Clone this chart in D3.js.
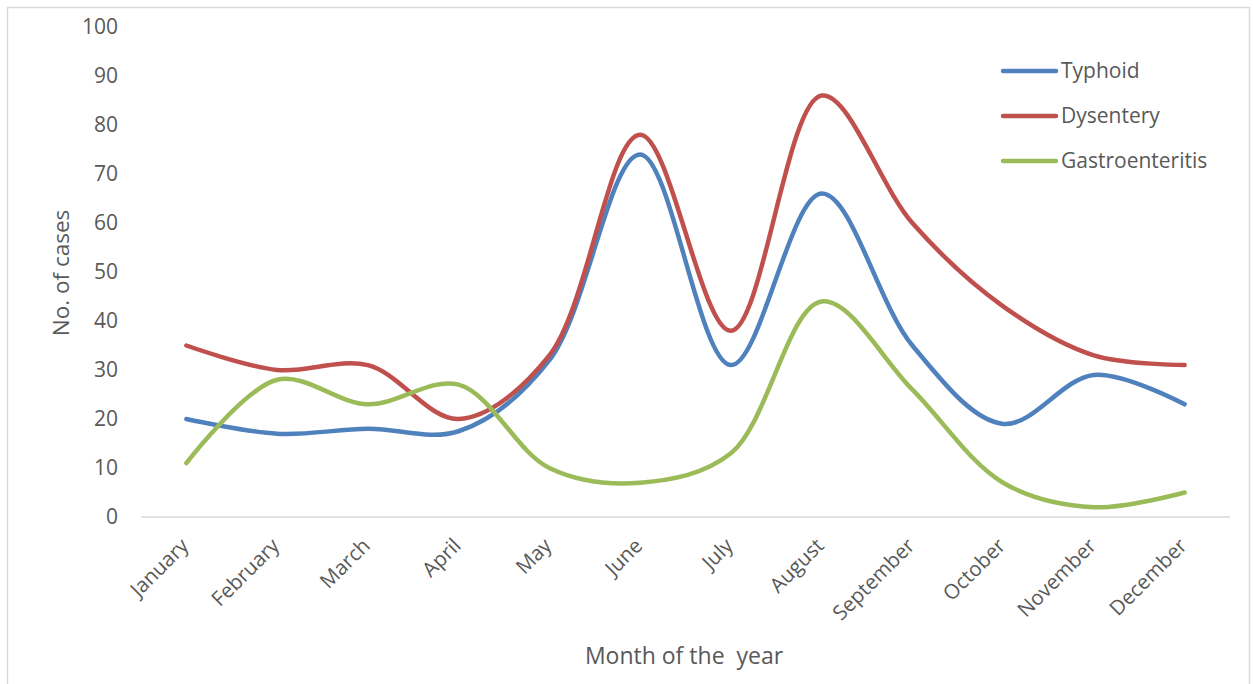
<!DOCTYPE html>
<html>
<head>
<meta charset="utf-8">
<script src="https://cdn.jsdelivr.net/npm/d3@7/dist/d3.min.js"></script>
<style>
  html, body { margin: 0; padding: 0; background: #fff; }
  svg { display: block; }
  svg text { font-family: "Open Sans", "Liberation Sans", sans-serif; }
</style>
</head>
<body>
<svg id="chart" width="1253" height="684"></svg>
<script>
// Monthly case counts by disease
const months = ["January", "February", "March", "April", "May", "June",
                "July", "August", "September", "October", "November", "December"];
const typhoid = [20, 17, 18, 17.5, 32, 74, 31, 66, 35, 19, 29, 23];
const dysentery = [35, 30, 31, 20, 33, 78, 38, 86, 60, 43, 33, 31];
const gastroenteritis = [11, 28, 23, 27, 10, 7, 13, 44, 26, 7, 2, 5];
const yTicks = [0, 10, 20, 30, 40, 50, 60, 70, 80, 90, 100];

const series = [
  { name: "Typhoid", values: typhoid, color: "#4F81BD" },
  { name: "Dysentery", values: dysentery, color: "#C0504D" },
  { name: "Gastroenteritis", values: gastroenteritis, color: "#9BBB59" }
];

const svg = d3.select("#chart");
const plot = { left: 141, right: 1230, top: 27, bottom: 517 };
const textColor = "#595959";
const fontFamily = "'Open Sans', 'Liberation Sans', sans-serif";

// outer frame
svg.append("rect")
  .attr("x", 7.5).attr("y", 7.5)
  .attr("width", 1242).attr("height", 680)
  .attr("fill", "#fff").attr("stroke", "#D9D9D9").attr("stroke-width", 1.5);

const x = d3.scalePoint().domain(months).range([plot.left, plot.right]).padding(0.5);
const y = d3.scaleLinear().domain([0, 100]).range([plot.bottom, plot.top]);

// y axis labels (no axis line)
const yAxis = svg.append("g")
  .attr("transform", `translate(${plot.left},0)`)
  .call(d3.axisLeft(y).tickValues(yTicks).tickSize(0).tickPadding(23));
yAxis.attr("font-family", fontFamily).attr("font-size", 21);
yAxis.select(".domain").remove();
yAxis.selectAll("text").attr("fill", textColor);

// x axis
const xAxis = svg.append("g")
  .attr("transform", `translate(0,${plot.bottom})`)
  .call(d3.axisBottom(x).tickSize(0).tickPadding(0));
xAxis.attr("font-family", fontFamily).attr("font-size", 20.5);
xAxis.select(".domain")
  .attr("stroke", "#D9D9D9").attr("stroke-width", 1.5)
  .attr("d", `M${plot.left},0H${plot.right}`);
xAxis.selectAll("text")
  .attr("fill", textColor)
  .attr("text-anchor", "end")
  .attr("dy", null).attr("y", 0)
  .attr("transform", "translate(3,30) rotate(-45)");

// series lines
const line = d3.line()
  .x((d, i) => x(months[i]))
  .y(d => y(d))
  .curve(d3.curveCatmullRom.alpha(0.5));

svg.append("g").selectAll("path")
  .data(series)
  .join("path")
  .attr("d", d => line(d.values))
  .attr("fill", "none")
  .attr("stroke", d => d.color)
  .attr("stroke-width", 4.5)
  .attr("stroke-linecap", "round")
  .attr("stroke-linejoin", "round");

// legend
const legend = svg.append("g");
series.forEach((s, i) => {
  const ly = 71 + i * 45;
  legend.append("line")
    .attr("x1", 1003).attr("x2", 1056)
    .attr("y1", ly).attr("y2", ly)
    .attr("stroke", s.color).attr("stroke-width", 4.5)
    .attr("stroke-linecap", "round");
  legend.append("text")
    .attr("x", 1061).attr("y", ly + 7)
    .attr("fill", textColor).style("font-size", "21px")
    .text(s.name);
});

// axis titles
svg.append("text")
  .attr("transform", `translate(69,273) rotate(-90)`)
  .attr("text-anchor", "middle")
  .attr("fill", textColor).style("font-size", "22.5px")
  .text("No. of cases");

svg.append("text")
  .attr("x", 684).attr("y", 664)
  .attr("text-anchor", "middle")
  .attr("fill", textColor).style("font-size", "23px")
  .style("white-space", "pre")
  .text("Month of the  year");
</script>
</body>
</html>
